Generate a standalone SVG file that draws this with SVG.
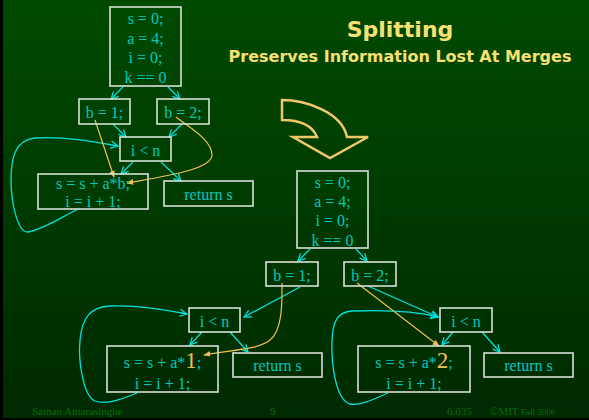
<svg xmlns="http://www.w3.org/2000/svg" width="589" height="420" viewBox="0 0 589 420">
<defs>
<linearGradient id="bg" x1="0" y1="0" x2="0" y2="1">
<stop offset="0" stop-color="#004a00"/>
<stop offset="1" stop-color="#002a00"/>
</linearGradient>
<marker id="ca" viewBox="0 0 10 10" refX="9" refY="5" markerWidth="9" markerHeight="9" markerUnits="userSpaceOnUse" orient="auto">
<path d="M1,1 L9,5 L1,9" fill="none" stroke="#00e0e0" stroke-width="1.4"/>
</marker>
<marker id="ya" viewBox="0 0 10 10" refX="9" refY="5" markerWidth="7" markerHeight="7" markerUnits="userSpaceOnUse" orient="auto">
<path d="M0,1 L10,5 L0,9 Z" fill="#f0c050"/>
</marker>
<style>
.box{fill:none;stroke:#d8e0d8;stroke-width:1.6}
.t{font-family:"Liberation Serif","Times New Roman",serif;font-size:16px;fill:#00c8c0;text-anchor:middle}
.big{font-size:23px;fill:#f0c050}
.c{fill:none;stroke:#00e0e0;stroke-width:1.3;marker-end:url(#ca)}
.y{fill:none;stroke:#f0c050;stroke-width:1.2;marker-end:url(#ya)}
.ft{font-family:"Liberation Serif","Times New Roman",serif;font-size:11px;fill:#0a6a0a}
</style>
</defs>
<rect x="0" y="0" width="589" height="420" fill="url(#bg)"/>
<rect x="0" y="0" width="3" height="420" fill="#000"/>

<text x="400" y="37" font-family="DejaVu Sans,Verdana,sans-serif" font-weight="bold" font-size="22" fill="#f8e070" text-anchor="middle">Splitting</text>
<text x="400" y="62" font-family="DejaVu Sans,Verdana,sans-serif" font-weight="bold" font-size="16" fill="#f8e070" text-anchor="middle">Preserves Information Lost At Merges</text>

<path d="M282,100 C305,100 342,112 347,137 L368,137 L330,158 L293,137 L317,137 C313,127 302,120 282,120 Z" fill="none" stroke="#f0c868" stroke-width="2.5" stroke-linejoin="miter"/>

<g id="connectors">
<line class="c" x1="123" y1="87" x2="111" y2="99"/>
<line class="c" x1="168" y1="87" x2="180" y2="99"/>
<line class="c" x1="113" y1="124" x2="126" y2="137"/>
<line class="c" x1="182" y1="124" x2="169" y2="137"/>
<line class="c" x1="133" y1="162" x2="121" y2="174"/>
<line class="c" x1="161" y1="162" x2="181" y2="181"/>
<path class="c" d="M78,209 C60,218 42,230 28,232 C17,233 11,200 11,180 C11,158 15,140 35,138 C60,136 92,141 118,146"/>
<line class="y" x1="95" y1="120" x2="114" y2="177"/>
<path class="y" d="M176,117 C190,128 212,140 212,155 C212,170 160,177 127,183"/>
<line class="c" x1="310" y1="249" x2="298" y2="261"/>
<line class="c" x1="356" y1="249" x2="367" y2="261"/>
<line class="c" x1="300" y1="287" x2="244" y2="317"/>
<line class="c" x1="202" y1="332" x2="190" y2="345"/>
<line class="c" x1="230" y1="332" x2="248" y2="352"/>
<path class="c" d="M137,393 C120,400 105,405 95,401 C83,396 78,360 80,340 C82,318 90,307 110,306 C140,305 165,310 187,314"/>
<path class="y" d="M282,283 C282,300 283,330 270,340 C258,350 230,350 204,355"/>
<line class="c" x1="368" y1="286" x2="438" y2="317"/>
<line class="c" x1="453" y1="332" x2="442" y2="345"/>
<line class="c" x1="482" y1="332" x2="500" y2="352"/>
<path class="c" d="M388,393 C372,400 360,406 350,404 C336,400 331,365 332,340 C333,320 338,312 352,311 C380,310 415,311 438,317"/>
<line class="y" x1="357" y1="283" x2="439" y2="346"/>
</g>

<g id="entry1">
<rect class="box" x="110" y="7" width="71" height="79"/>
<text class="t" x="145.5" y="24">s = 0;</text>
<text class="t" x="145.5" y="44">a = 4;</text>
<text class="t" x="145.5" y="63">i = 0;</text>
<text class="t" x="145.5" y="83">k == 0</text>
</g>
<g id="b1_top"><rect class="box" x="79" y="99" width="51" height="25"/><text class="t" x="104.5" y="118">b = 1;</text></g>
<g id="b2_top"><rect class="box" x="157" y="99" width="52" height="25"/><text class="t" x="183" y="118">b = 2;</text></g>
<g id="cond_top"><rect class="box" x="120" y="137" width="51" height="24"/><text class="t" x="145.5" y="156">i &lt; n</text></g>
<g id="body_top"><rect class="box" x="38" y="174" width="110" height="35"/><text class="t" x="93" y="189">s = s + a*b;</text><text class="t" x="93" y="207">i = i + 1;</text></g>
<g id="ret_top"><rect class="box" x="164" y="181" width="89" height="25"/><text class="t" x="208.5" y="200">return s</text></g>

<g id="entry2">
<rect class="box" x="297" y="171" width="71" height="77"/>
<text class="t" x="332.5" y="188">s = 0;</text>
<text class="t" x="332.5" y="207">a = 4;</text>
<text class="t" x="332.5" y="226">i = 0;</text>
<text class="t" x="332.5" y="246">k == 0</text>
</g>
<g id="b1_bot"><rect class="box" x="266" y="262" width="52" height="24"/><text class="t" x="292" y="281">b = 1;</text></g>
<g id="b2_bot"><rect class="box" x="344" y="262" width="52" height="24"/><text class="t" x="370" y="281">b = 2;</text></g>
<g id="cond_l"><rect class="box" x="189" y="308" width="51" height="24"/><text class="t" x="214.5" y="327">i &lt; n</text></g>
<g id="body_l"><rect class="box" x="107" y="346" width="111" height="46"/><text class="t" x="162.5" y="368">s = s + a*<tspan class="big">1</tspan>;</text><text class="t" x="162.5" y="389">i = i + 1;</text></g>
<g id="ret_l"><rect class="box" x="233" y="353" width="89" height="24"/><text class="t" x="277.5" y="371">return s</text></g>
<g id="cond_r"><rect class="box" x="440" y="308" width="52" height="24"/><text class="t" x="466" y="327">i &lt; n</text></g>
<g id="body_r"><rect class="box" x="358" y="346" width="112" height="46"/><text class="t" x="414" y="368">s = s + a*<tspan class="big">2</tspan>;</text><text class="t" x="414" y="389">i = i + 1;</text></g>
<g id="ret_r"><rect class="box" x="484" y="353" width="89" height="24"/><text class="t" x="528.5" y="371">return s</text></g>

<text class="ft" x="32" y="415" font-family="Liberation Sans,Arial,sans-serif" font-size="10">Saman Amarasinghe</text>
<text class="ft" x="270" y="415">9</text>
<text class="ft" x="447" y="415">6.035</text>
<text class="ft" x="490" y="415">©MIT <tspan font-size="9">Fall 2006</tspan></text>
<rect x="0" y="418" width="589" height="2" fill="#000"/>
</svg>
